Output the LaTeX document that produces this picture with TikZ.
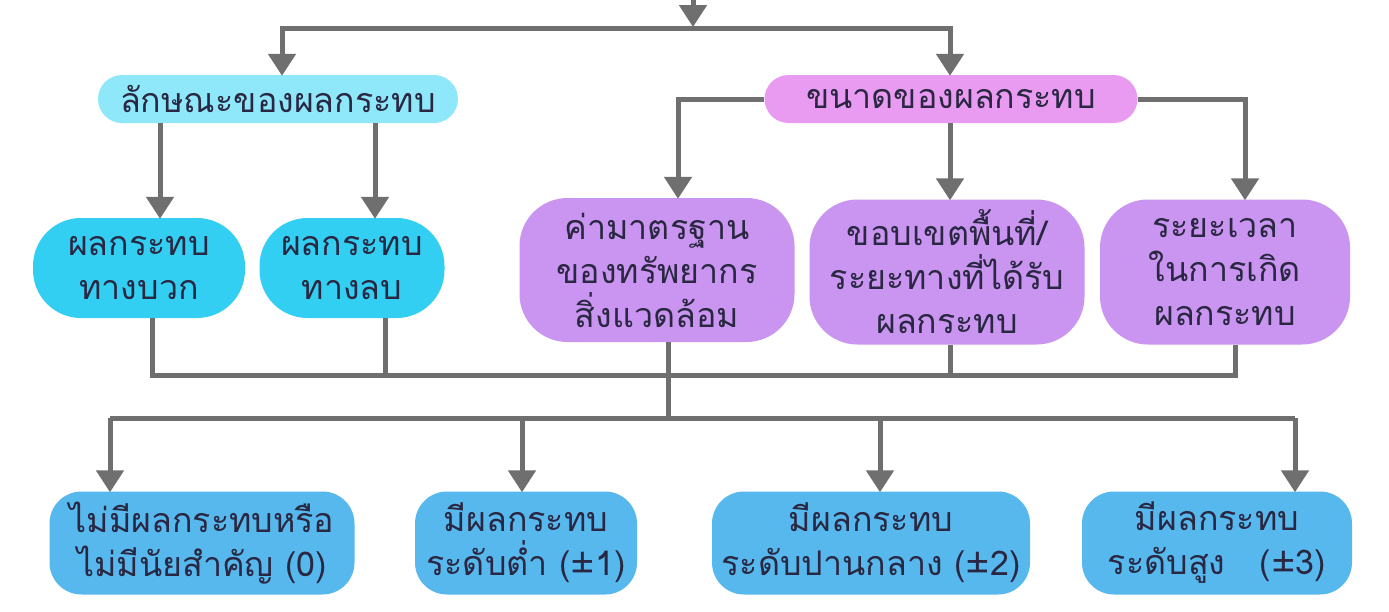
\documentclass[tikz,border=0pt]{standalone}
\usepackage{fontspec}
\newfontfamily\thai[Script=Thai]{Loma}
\usetikzlibrary{arrows.meta,calc}
\definecolor{lcyan}{HTML}{8EE8FA}
\definecolor{cyanbox}{HTML}{33CFF3}
\definecolor{pinkbox}{HTML}{E99BF2}
\definecolor{purplebox}{HTML}{C995F0}
\definecolor{bluebox}{HTML}{57B8EE}
\definecolor{linegray}{HTML}{6F6F6F}
\definecolor{txt}{HTML}{2A2742}
\tikzset{
  box/.style={align=center, text=txt, inner sep=0pt,
    font=\thai\fontsize{34}{44}\selectfont},
  topbox/.style={box, rounded corners=24pt, minimum height=48pt},
  midbox/.style={box, rounded corners=48pt},
  lowbox/.style={box, rounded corners=32pt, minimum height=103pt},
  conn/.style={draw=linegray, line width=5pt},
  arr/.style={conn, -{Triangle[length=22pt,width=27pt]}, shorten >=-1pt},
}
\begin{document}
\begin{tikzpicture}[x=1pt,y=-1pt]
\useasboundingbox[fill=white] (0,0) rectangle (1389,611);
% nodes
\node[topbox, fill=lcyan, minimum width=360pt] (A) at (278,99) {ลักษณะของผลกระทบ};
\node[topbox, fill=pinkbox, minimum width=373pt] (B) at (951,99) {ขนาดของผลกระทบ};
\node[midbox, fill=cyanbox, minimum width=212pt, minimum height=100pt] (A1) at (139,268) {ผลกระทบ\\ทางบวก};
\node[midbox, fill=cyanbox, minimum width=185pt, minimum height=100pt] (A2) at (352,268) {ผลกระทบ\\ทางลบ};
\node[midbox, fill=purplebox, minimum width=275pt, minimum height=144pt] (B1) at (657,270) {ค่ามาตรฐาน\\ของทรัพยากร\\สิ่งแวดล้อม};
\node[midbox, fill=purplebox, minimum width=275pt, minimum height=145pt] (B2) at (947,272) {ขอบเขตพื้นที่/\\ระยะทางที่ได้รับ\\ผลกระทบ};
\node[midbox, fill=purplebox, minimum width=250pt, minimum height=145pt] (B3) at (1225,272) {ระยะเวลา\\ในการเกิด\\ผลกระทบ};
\node[lowbox, fill=bluebox, minimum width=305pt] (C1) at (202,543) {ไม่มีผลกระทบหรือ\\ไม่มีนัยสำคัญ (0)};
\node[lowbox, fill=bluebox, minimum width=222pt] (C2) at (526,543) {มีผลกระทบ\\ระดับต่ำ (±1)};
\node[lowbox, fill=bluebox, minimum width=318pt] (C3) at (871,543) {มีผลกระทบ\\ระดับปานกลาง (±2)};
\node[lowbox, fill=bluebox, minimum width=270pt] (C4) at (1217,543) {มีผลกระทบ\\ระดับสูง\ \ \ (±3)};
% top connectors
\coordinate (in) at (693,-2);
\coordinate (tj) at (693,26);
\coordinate (jl) at (282,28);
\coordinate (jr) at (950,28);
\draw[arr] (in) -- (tj);
\draw[conn, line cap=rect] (jl) -- (jr);
\draw[arr] (jl) -- (jl |- A.north);
\draw[arr] (jr) -- (jr |- B.north);
% from A
\draw[arr] ([xshift=21pt]A1.north |- A.south) -- ([xshift=21pt]A1.north);
\draw[arr] ([xshift=23pt]A2.north |- A.south) -- ([xshift=23pt]A2.north);
% from B
\draw[arr] (B.west) -| ([xshift=21pt]B1.north);
\draw[arr] ([xshift=3pt]B2.north |- B.south) -- ([xshift=3pt]B2.north);
\draw[arr] (B.east) -| ([xshift=20pt]B3.north);
% collect bus
\coordinate (bus1) at (0,375);
\coordinate (mid) at (668,375);
\coordinate (bus2) at (668,418);
\draw[conn] ([xshift=13pt]A1.south) |- (mid);
\draw[conn] ([xshift=33pt]A2.south) -- ([xshift=33pt]A2.south |- bus1);
\draw[conn] ([xshift=11pt]B1.south) -- (mid);
\draw[conn] ([xshift=3pt]B2.south) -- ([xshift=3pt]B2.south |- bus1);
\draw[conn] ([xshift=10pt]B3.south) |- (mid);
\draw[conn] (mid) -- (bus2);
% distribution bus
\draw[conn] ([xshift=-92pt]C1.north |- bus2) -- ([xshift=78pt]C4.north |- bus2);
\draw[arr] ([xshift=-92pt]C1.north |- bus2) -- ([xshift=-92pt]C1.north);
\draw[arr] ([xshift=-4pt]C2.north |- bus2) -- ([xshift=-4pt]C2.north);
\draw[arr] ([xshift=9pt]C3.north |- bus2) -- ([xshift=9pt]C3.north);
\draw[arr] ([xshift=78pt]C4.north |- bus2) -- ([xshift=78pt]C4.north);
\end{tikzpicture}
\end{document}
